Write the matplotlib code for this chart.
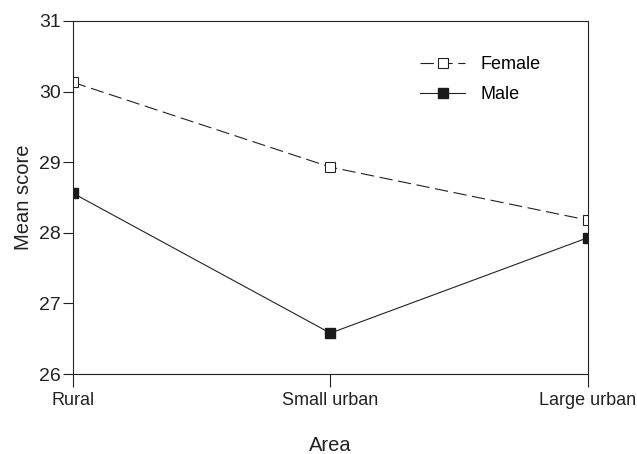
import matplotlib
matplotlib.use("Agg")
import matplotlib.pyplot as plt

areas = ["Rural", "Small urban", "Large urban"]
female = [30.13, 28.93, 28.18]
male = [28.56, 26.58, 27.93]
yticks = [26, 27, 28, 29, 30, 31]

plt.rcParams['font.family'] = ['Liberation Sans', 'DejaVu Sans']

fig = plt.figure(figsize=(6.37, 4.54), dpi=100)
ax = fig.add_axes([0.1146, 0.176, 0.808, 0.778])

x = list(range(len(areas)))
ax.plot(x, female, color='#222222', lw=0.8, dashes=(12, 5), marker='s', ms=7,
        mfc='white', mec='#222222', mew=0.8, label='Female')
ax.plot(x, male, color='#222222', lw=0.8, marker='s', ms=7,
        mfc='#1a1a1a', mec='#1a1a1a', label='Male')

ax.set_xlim(0, 2)
ax.set_ylim(26, 31)
ax.set_xticks(x)
ax.set_xticklabels(areas, fontsize=13)
ax.set_yticks(yticks)
ax.set_yticklabels([str(v) for v in yticks], fontsize=14)
ax.tick_params(axis='x', direction='out', length=9, width=0.8, pad=4, colors='#222222')
ax.tick_params(axis='y', direction='out', length=7, width=0.8, pad=2, colors='#222222')
for s in ax.spines.values():
    s.set_linewidth(0.8)
    s.set_color('#222222')

ax.set_xlabel('Area', fontsize=14.5, labelpad=19, color='#222222')
ax.set_ylabel('Mean score', fontsize=14.5, labelpad=4, color='#222222')

leg = ax.legend(loc='upper left', bbox_to_anchor=(0.643, 0.947), frameon=False,
                fontsize=13, handlelength=2.5, handletextpad=0.85, labelspacing=0.75)

fig.savefig('out.png', dpi=100)
